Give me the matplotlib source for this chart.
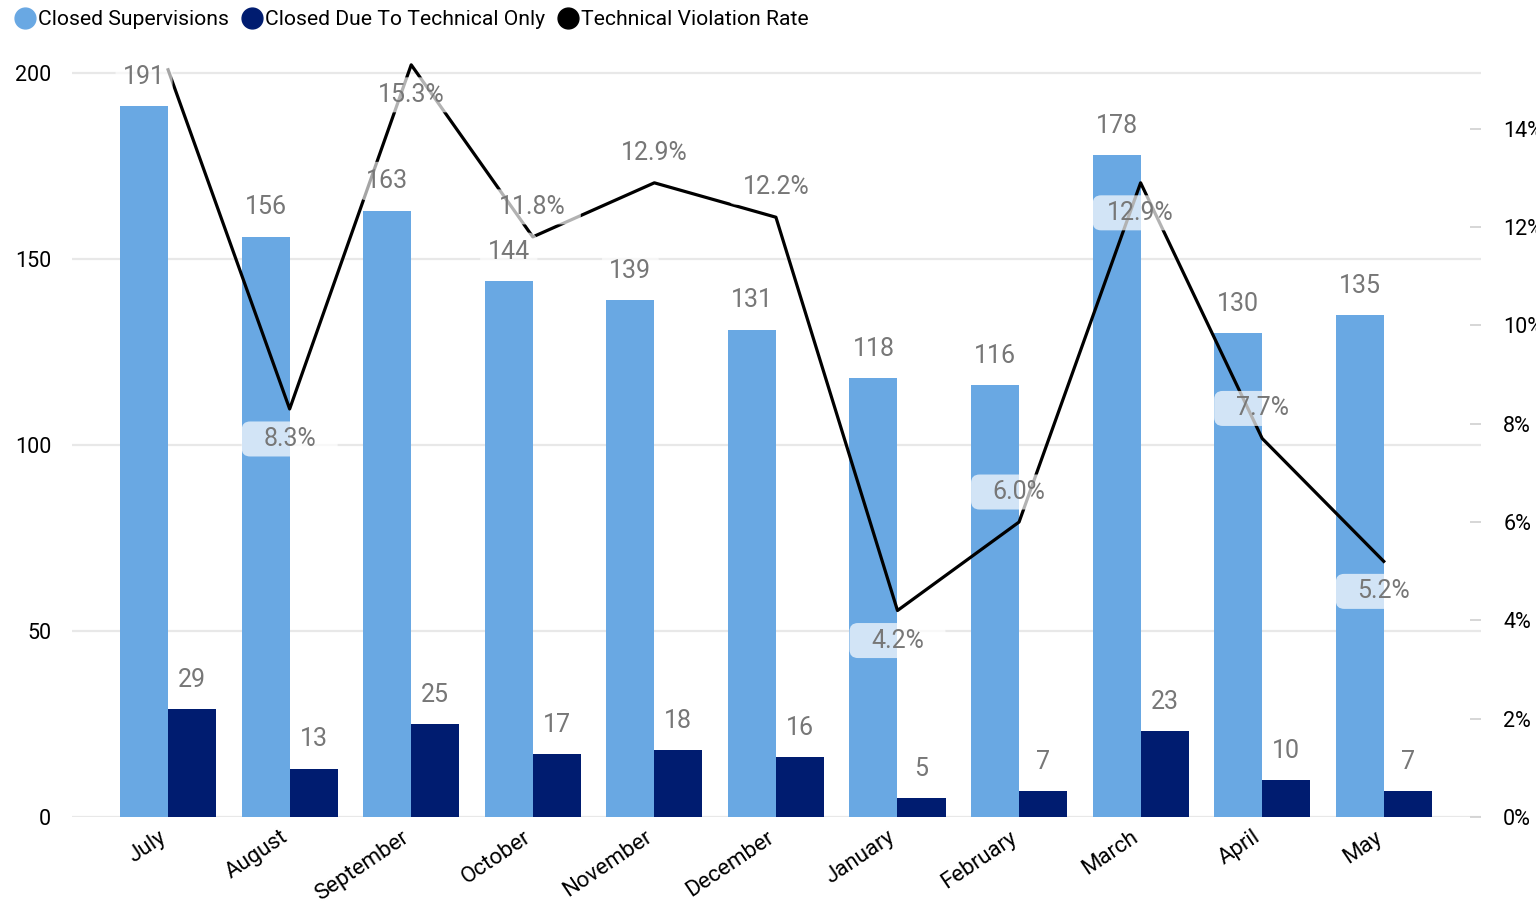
import matplotlib
matplotlib.use("Agg")
import matplotlib.pyplot as plt
import matplotlib.transforms as mtransforms
import numpy as np
from matplotlib.lines import Line2D
from matplotlib.patches import FancyBboxPatch

months = ['July', 'August', 'September', 'October', 'November', 'December',
          'January', 'February', 'March', 'April', 'May']
closed = [191, 156, 163, 144, 139, 131, 118, 116, 178, 130, 135]
technical = [29, 13, 25, 17, 18, 16, 5, 7, 23, 10, 7]
rate = [15.2, 8.3, 15.3, 11.8, 12.9, 12.2, 4.2, 6.0, 12.9, 7.7, 5.2]

# where the rate label sits: 1 above point, -1 below, 0 hidden
rate_label_side = [0, -1, -1, 1, 1, 1, -1, 1, -1, 1, -1]

light = '#69A8E3'
dark = '#001C70'
label_grey = '#777777'
grid_col = '#E8E8E8'

plt.rcParams['font.family'] = ['Roboto', 'DejaVu Sans']

fig = plt.figure(figsize=(15.36, 9.09), dpi=100)
ax = fig.add_axes([0.0469, 0.1012, 0.9642 - 0.0469, 0.8383])
ax2 = ax.twinx()

x = np.arange(len(months))
w = 0.395
ytop_l = 204.8
ytop_r = 15.5

ax.bar(x - w / 2, closed, width=w, color=light, zorder=2)
ax.bar(x + w / 2, technical, width=w, color=dark, zorder=2)

ax.set_xlim(-0.79, len(months) - 1 + 0.8)
ax.set_ylim(0, ytop_l)
ax.set_yticks([0, 50, 100, 150, 200])
ax.grid(axis='y', color=grid_col, linewidth=1.6, zorder=0)
ax.set_axisbelow(True)
for s in ax.spines.values():
  s.set_visible(False)
for s in ax2.spines.values():
  s.set_visible(False)
ax.tick_params(axis='y', length=0, pad=15, labelsize=15.5)
ax.tick_params(axis='x', length=0, pad=7, labelsize=16)
ax.set_xticks(x)
ax.set_xticklabels(months, rotation=34, ha='right', rotation_mode='anchor')
shift = mtransforms.ScaledTranslation(-10 / 100, 0, fig.dpi_scale_trans)
for lbl in ax.get_xticklabels():
  lbl.set_transform(lbl.get_transform() + shift)

# rate line on secondary axis
ax2.plot(x, rate, color='black', linewidth=2.3, zorder=3)
ax2.set_ylim(0, ytop_r)
ax2.set_yticks(range(0, 16, 2))
ax2.set_yticklabels([f'{v}%' for v in range(0, 16, 2)])
ax2.tick_params(axis='y', direction='in', length=8, color='#D0D0D0', width=1.2,
                pad=16, labelsize=15.5)

box = dict(boxstyle='round,pad=0.3,rounding_size=0.4', facecolor='white',
           edgecolor='none', alpha=0.65)

# bar labels
for i in range(len(months)):
  ax2.annotate(str(closed[i]), xy=(x[i] - w / 2, closed[i] * ytop_r / ytop_l),
               xytext=(0, 21), textcoords='offset points', ha='center', va='center',
               fontsize=18, color=label_grey, bbox=box, zorder=5)
  ax2.annotate(str(technical[i]), xy=(x[i] + w / 2, technical[i] * ytop_r / ytop_l),
               xytext=(0, 21), textcoords='offset points', ha='center', va='center',
               fontsize=18, color=label_grey, bbox=box, zorder=5)

# rate labels, box spans the whole category group
px_per_pct = 49.14
box_h = 35 / px_per_pct
for i in range(len(months)):
  if rate_label_side[i] == 0:
    continue
  yc = rate[i] + rate_label_side[i] * 30 / px_per_pct
  ax2.add_patch(FancyBboxPatch((x[i] - w, yc - box_h / 2), 2 * w, box_h,
                               boxstyle='round,pad=0,rounding_size=0.07',
                               mutation_aspect=2.47, facecolor='white',
                               edgecolor='none', alpha=0.7, zorder=4))
  ax2.text(x[i], yc, f'{rate[i]:.1f}%', ha='center', va='center', fontsize=18,
           color=label_grey, zorder=5)

handles = [
  Line2D([], [], marker='o', linestyle='none', markersize=15, color=light),
  Line2D([], [], marker='o', linestyle='none', markersize=15, color=dark),
  Line2D([], [], marker='o', linestyle='none', markersize=15, color='black'),
]
fig.legend(handles, ['Closed Supervisions', 'Closed Due To Technical Only',
                     'Technical Violation Rate'],
           loc='upper left', bbox_to_anchor=(0.0, 1.003), ncol=3, frameon=False,
           fontsize=15.2, handletextpad=0.0, columnspacing=0.5, handlelength=1.2,
           borderaxespad=0.2)

fig.savefig('out.png', dpi=100)
